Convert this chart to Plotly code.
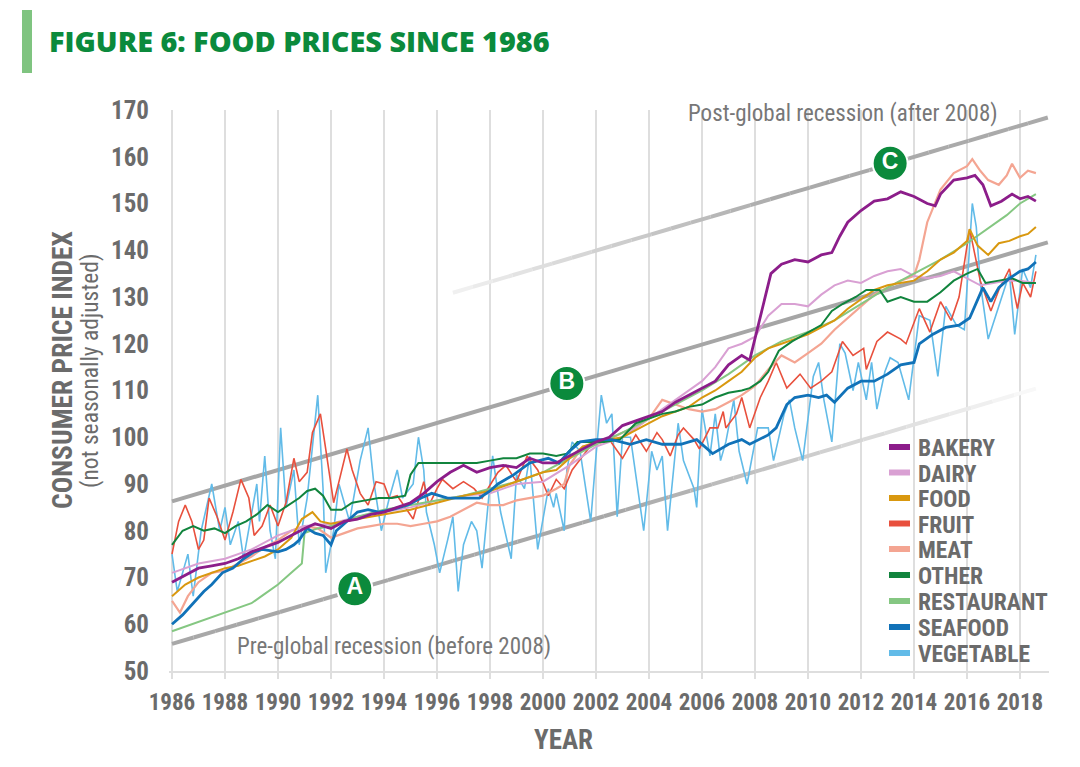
import plotly.graph_objects as go

# ---------------- data (year, CPI) ----------------
bakery = [(1986.0, 69), (1986.5, 70.5), (1987.0, 72), (1987.5, 72.5), (1988.0, 73), (1988.5, 74),
          (1989.0, 75.5), (1989.5, 76.5), (1990.0, 77.5), (1990.5, 79), (1991.0, 80.5), (1991.4, 81.5),
          (1992.0, 80.5), (1992.5, 82), (1993.0, 82.5), (1993.5, 83.5), (1994.0, 84), (1994.5, 85),
          (1995.0, 86), (1995.5, 88), (1996.0, 90.5), (1996.5, 92.5), (1997.0, 94), (1997.5, 92.5),
          (1998.0, 93.5), (1998.5, 94), (1999.0, 93.5), (1999.5, 95.5), (2000.0, 94.5), (2000.5, 94.5),
          (2001.0, 96), (2001.5, 97.5), (2002.0, 99), (2002.5, 100), (2003.0, 102.5), (2003.5, 103.5),
          (2004.0, 104.5), (2004.5, 105.5), (2005.0, 107.5), (2005.5, 109), (2006.0, 110.5), (2006.5, 112),
          (2007.0, 115.5), (2007.5, 117.5), (2007.8, 116.5), (2008.0, 121), (2008.3, 128), (2008.6, 135),
          (2009.0, 137), (2009.5, 138), (2010.0, 137.5), (2010.5, 139), (2010.9, 139.5), (2011.2, 143),
          (2011.5, 146), (2012.0, 148.5), (2012.5, 150.5), (2013.0, 151), (2013.5, 152.5), (2014.0, 151.5),
          (2014.5, 150), (2014.8, 149.5), (2015.0, 152), (2015.5, 155), (2016.0, 155.5), (2016.3, 156),
          (2016.6, 154), (2016.9, 149.5), (2017.3, 150.5), (2017.7, 152), (2018.0, 151), (2018.3, 151.5),
          (2018.6, 150.5)]

dairy = [(1986.0, 71), (1987.0, 73), (1988.0, 74), (1989.0, 76), (1990.0, 79), (1991.0, 81),
         (1992.0, 81.5), (1993.0, 83), (1994.0, 84), (1995.0, 85), (1996.0, 86.5), (1997.0, 87.5),
         (1998.0, 88), (1999.0, 90), (2000.0, 90.5), (2001.0, 94), (2002.0, 98), (2003.0, 100),
         (2004.0, 104), (2005.0, 108), (2005.5, 110), (2006.0, 112), (2006.5, 115), (2007.0, 119),
         (2007.5, 120), (2008.0, 121.5), (2008.5, 126), (2009.0, 128.5), (2009.5, 128.5), (2010.0, 128),
         (2010.5, 130.5), (2011.0, 132.5), (2011.5, 133.5), (2012.0, 133), (2012.5, 134.5), (2013.0, 135.5),
         (2013.5, 136), (2014.0, 134.5), (2014.5, 134), (2015.0, 134.5), (2015.5, 135.5), (2016.0, 134),
         (2016.5, 132.5), (2017.0, 133), (2017.5, 133.5), (2018.0, 133.5), (2018.6, 133)]

food = [(1986.0, 66), (1986.5, 68.5), (1987.0, 70), (1987.5, 71), (1988.0, 72), (1988.5, 72.5),
        (1989.0, 73.5), (1989.5, 74.5), (1990.0, 76), (1990.5, 78.5), (1990.9, 82.5), (1991.3, 84),
        (1991.6, 82), (1992.0, 81.5), (1993.0, 82.5), (1994.0, 83.5), (1995.0, 84.5), (1996.0, 86),
        (1997.0, 87.5), (1998.0, 88.5), (1999.0, 90.5), (2000.0, 92.5), (2000.5, 93), (2001.0, 95.5),
        (2001.5, 98), (2002.0, 99), (2002.5, 99.5), (2003.0, 100), (2003.5, 101.5), (2004.0, 103),
        (2004.5, 104.5), (2005.0, 105.5), (2005.5, 106.5), (2006.0, 108.5), (2006.5, 110), (2007.0, 112),
        (2007.5, 114), (2008.0, 117), (2008.5, 119), (2009.0, 120), (2009.5, 121), (2010.0, 122),
        (2010.5, 123.5), (2011.0, 125), (2011.5, 127.5), (2012.0, 129.5), (2012.5, 131.5), (2013.0, 132.5),
        (2013.5, 133), (2014.0, 133.5), (2014.5, 135.5), (2015.0, 138), (2015.5, 139.5), (2016.0, 142),
        (2016.1, 144.5), (2016.4, 141), (2016.8, 139), (2017.2, 141.5), (2017.6, 142), (2018.0, 143),
        (2018.3, 143.5), (2018.6, 145)]

fruit = [(1986.0, 75), (1986.25, 82), (1986.5, 85.5), (1986.75, 82), (1987.0, 76), (1987.2, 78),
         (1987.4, 87), (1987.7, 83), (1988.0, 78), (1988.3, 84), (1988.6, 91), (1988.9, 87),
         (1989.1, 79), (1989.4, 81), (1989.7, 85.5), (1990.0, 81), (1990.3, 86), (1990.6, 95.5),
         (1990.8, 90.5), (1991.1, 92.5), (1991.3, 101), (1991.6, 105), (1991.8, 97.5), (1992.1, 86),
         (1992.3, 90.5), (1992.6, 97.5), (1992.8, 93), (1993.1, 88), (1993.4, 85.5), (1993.7, 90.5),
         (1994.0, 90), (1994.2, 87), (1994.5, 87.5), (1994.9, 84), (1995.1, 82.5), (1995.5, 90.5),
         (1995.7, 85.5), (1996.0, 89), (1996.2, 91), (1996.6, 89), (1997.0, 90.5), (1997.4, 89),
         (1997.7, 87), (1998.3, 92.5), (1998.6, 94), (1999.0, 90.5), (1999.4, 96), (1999.8, 93),
         (2000.2, 87.5), (2000.5, 91), (2000.8, 89), (2001.1, 93), (2001.7, 97.5), (2001.9, 98.5),
         (2002.3, 99), (2002.5, 99.5), (2003.0, 95.5), (2003.5, 100.5), (2003.9, 97), (2004.3, 101),
         (2004.5, 99.5), (2004.8, 96), (2005.1, 100.5), (2005.3, 102), (2005.7, 99.5), (2005.9, 97.5),
         (2006.3, 102), (2006.6, 102), (2006.8, 105.5), (2006.9, 102), (2007.3, 105), (2007.5, 108.5),
         (2007.8, 102), (2008.2, 108.5), (2008.5, 112), (2008.8, 116), (2009.2, 110.5), (2009.7, 113.5),
         (2010.1, 110.5), (2010.5, 112), (2010.9, 114), (2011.3, 120.5), (2011.7, 117.5), (2012.1, 119),
         (2012.2, 114.5), (2012.6, 120.5), (2013.0, 122.5), (2013.5, 121), (2013.7, 120), (2014.2, 127.5),
         (2014.6, 122.5), (2015.0, 129), (2015.4, 125), (2015.7, 130), (2016.1, 144.5), (2016.5, 133.5),
         (2016.9, 127), (2017.2, 131.5), (2017.6, 136), (2017.9, 127.5), (2018.1, 133), (2018.4, 130),
         (2018.6, 135.5)]

meat = [(1986.0, 65), (1986.3, 62.5), (1986.6, 66), (1987.0, 69), (1987.5, 71), (1988.0, 71.5),
        (1988.5, 73), (1989.0, 74.5), (1989.5, 76.5), (1990.0, 78), (1990.5, 80), (1991.0, 81),
        (1991.5, 80.5), (1992.0, 78.5), (1992.5, 79.5), (1993.0, 80.5), (1993.5, 81), (1994.0, 81.5),
        (1994.5, 81.5), (1995.0, 81), (1995.5, 81.5), (1996.0, 82), (1996.5, 83), (1997.0, 84.5),
        (1997.5, 86), (1998.0, 85.5), (1998.5, 85.5), (1999.0, 86.5), (1999.5, 87), (2000.0, 87.5),
        (2000.5, 89), (2000.8, 90), (2001.0, 94), (2001.5, 98), (2002.0, 98.5), (2002.5, 99.5),
        (2003.0, 101), (2003.5, 102), (2004.0, 104), (2004.5, 108), (2005.0, 107), (2005.5, 106),
        (2006.0, 105.5), (2006.5, 106), (2007.0, 107.5), (2007.5, 109), (2008.0, 111), (2008.5, 114.5),
        (2009.0, 117.5), (2009.5, 116), (2010.0, 118), (2010.5, 120), (2011.0, 123), (2011.5, 125.5),
        (2012.0, 128), (2012.5, 130.5), (2013.0, 132), (2013.5, 133.5), (2014.0, 134.5), (2014.2, 138),
        (2014.5, 146), (2014.8, 150), (2015.0, 153), (2015.5, 156.5), (2016.0, 158), (2016.2, 159.5),
        (2016.5, 157), (2016.8, 155), (2017.2, 154), (2017.5, 156), (2017.7, 158.5), (2018.0, 155.5),
        (2018.3, 157), (2018.6, 156.5)]

other = [(1986.0, 77), (1986.4, 80), (1986.8, 81), (1987.2, 80), (1987.6, 80.5), (1988.0, 79.5),
         (1988.4, 81), (1988.8, 82), (1989.2, 83.5), (1989.6, 85.5), (1990.0, 84), (1990.4, 85.5),
         (1990.8, 87), (1991.1, 88.5), (1991.4, 89), (1991.7, 87.5), (1992.0, 84.5), (1992.4, 84.5),
         (1992.8, 86), (1993.3, 86.5), (1993.8, 87), (1994.3, 87), (1994.8, 87.5), (1995.0, 92),
         (1995.3, 94.5), (1995.8, 94.5), (1996.3, 94.5), (1997.0, 94.5), (1997.5, 94.5), (1998.0, 95),
         (1998.5, 95.5), (1999.0, 95.5), (1999.5, 96.5), (2000.0, 96.5), (2000.5, 96), (2000.9, 96.5),
         (2001.3, 99), (2001.8, 99), (2002.3, 99), (2002.9, 99.5), (2003.5, 103), (2004.0, 104),
         (2004.5, 105), (2005.0, 105.5), (2005.5, 106.5), (2006.0, 107), (2006.5, 108.5), (2007.0, 109.5),
         (2007.5, 110), (2007.8, 110.5), (2008.2, 112), (2008.5, 114), (2008.9, 118.5), (2009.4, 120.5),
         (2010.0, 122.5), (2010.5, 124), (2010.9, 127), (2011.3, 128.5), (2011.8, 130), (2012.2, 131.5),
         (2012.7, 131.5), (2013.0, 129), (2013.5, 130), (2014.0, 129), (2014.5, 129), (2015.0, 131),
         (2015.5, 133.5), (2016.0, 135), (2016.4, 136), (2016.7, 133), (2017.2, 133.5), (2017.7, 134),
         (2018.1, 133), (2018.6, 133)]

restaurant = [(1986.0, 58.5), (1987.0, 60.5), (1988.0, 62.5), (1989.0, 64.5), (1989.5, 66.5),
              (1990.0, 68.5), (1990.5, 71), (1990.9, 73), (1991.0, 79.5), (1991.5, 80.5), (1992.0, 81),
              (1993.0, 83), (1994.0, 84.5), (1995.0, 85.5), (1996.0, 86.5), (1997.0, 87.5), (1998.0, 89),
              (1999.0, 90.5), (2000.0, 92.5), (2001.0, 95.5), (2002.0, 98.5), (2003.0, 101), (2004.0, 104),
              (2005.0, 107), (2006.0, 110), (2007.0, 113.5), (2008.0, 117.5), (2009.0, 120.5), (2010.0, 122.5),
              (2011.0, 125), (2012.0, 128.5), (2013.0, 132), (2014.0, 135), (2015.0, 138), (2016.0, 141.5),
              (2017.0, 145.5), (2017.5, 147.5), (2018.0, 150), (2018.6, 152)]

seafood = [(1986.0, 60), (1986.4, 62), (1986.8, 64.5), (1987.2, 67), (1987.5, 68.5), (1987.9, 71),
           (1988.3, 72), (1988.7, 74), (1989.1, 75.5), (1989.4, 76), (1990.0, 75.5), (1990.3, 76),
           (1990.6, 77), (1990.8, 78), (1991.1, 80.5), (1991.4, 79.5), (1991.7, 79), (1992.0, 77),
           (1992.2, 80), (1992.6, 82), (1993.0, 84), (1993.4, 84.5), (1993.8, 84), (1994.3, 84.5),
           (1994.9, 85.5), (1995.4, 87), (1995.8, 88), (1996.4, 87), (1997.0, 87), (1997.6, 87),
           (1998.0, 88.5), (1998.3, 90), (1998.9, 92), (1999.5, 94.5), (2000.2, 95.5), (2000.6, 94.5),
           (2001.0, 97), (2001.4, 99), (2002.0, 99.5), (2002.6, 99.5), (2003.3, 98.5), (2003.9, 99.5),
           (2004.5, 98.5), (2005.2, 98.5), (2005.8, 99.5), (2006.4, 96.5), (2007.0, 98.5), (2007.5, 99.5),
           (2007.8, 98.5), (2008.5, 100.5), (2008.8, 102), (2009.2, 107), (2009.5, 108.5), (2010.0, 109),
           (2010.4, 108.5), (2010.7, 109), (2011.0, 107.5), (2011.5, 110.5), (2012.0, 112), (2012.5, 112),
           (2013.0, 113.5), (2013.5, 115.5), (2014.0, 116), (2014.2, 120), (2014.7, 122), (2015.2, 123.5),
           (2015.7, 124), (2016.1, 125.5), (2016.6, 132), (2016.9, 129), (2017.2, 132), (2017.6, 134),
           (2018.0, 135.5), (2018.3, 136), (2018.6, 137.5)]

vegetable = [(1986.0, 75), (1986.2, 67), (1986.6, 75), (1986.8, 66), (1987.1, 80), (1987.5, 90),
             (1987.8, 80), (1988.0, 85), (1988.2, 77), (1988.5, 82), (1988.7, 74), (1989.0, 84),
             (1989.2, 90), (1989.3, 82), (1989.5, 96), (1989.7, 80), (1989.9, 74), (1990.1, 102),
             (1990.3, 85), (1990.6, 93), (1990.8, 77), (1991.1, 87), (1991.5, 109), (1991.7, 89),
             (1991.8, 71), (1992.1, 80), (1992.3, 90), (1992.7, 82), (1993.1, 95), (1993.4, 102),
             (1993.6, 91), (1993.9, 80), (1994.2, 87), (1994.5, 93), (1994.7, 87), (1995.1, 90),
             (1995.3, 100), (1995.5, 93), (1995.6, 84), (1995.9, 77), (1996.1, 71), (1996.4, 78),
             (1996.6, 83), (1996.8, 67), (1997.0, 77), (1997.3, 82), (1997.5, 80), (1997.7, 72),
             (1998.0, 90), (1998.1, 96), (1998.4, 84), (1998.8, 74), (1999.0, 92), (1999.3, 89),
             (1999.5, 96), (1999.8, 76), (2000.2, 89), (2000.4, 85), (2000.5, 88), (2000.8, 80),
             (2000.9, 93), (2001.1, 99), (2001.4, 97), (2001.8, 82), (2002.0, 96), (2002.2, 109),
             (2002.4, 103), (2002.6, 105), (2002.8, 83), (2003.0, 100), (2003.3, 100), (2003.5, 92),
             (2003.8, 80), (2004.1, 97), (2004.3, 93), (2004.5, 96), (2004.7, 80), (2005.1, 103),
             (2005.3, 95), (2005.7, 89), (2005.8, 85), (2006.0, 106), (2006.3, 96), (2006.5, 105),
             (2006.7, 95), (2006.9, 99), (2007.2, 108), (2007.4, 97), (2007.7, 90), (2008.1, 102),
             (2008.5, 102), (2008.7, 95), (2009.1, 105), (2009.3, 108), (2009.5, 102), (2009.8, 95),
             (2010.2, 113), (2010.4, 116), (2010.6, 108), (2010.9, 99), (2011.2, 120), (2011.4, 118),
             (2011.7, 110), (2011.9, 116), (2012.2, 108), (2012.4, 116), (2012.6, 106), (2012.9, 114),
             (2013.1, 117), (2013.4, 116), (2013.8, 108), (2014.2, 126), (2014.6, 125), (2014.9, 113),
             (2015.2, 128), (2015.6, 124), (2015.9, 123), (2016.2, 150), (2016.35, 145), (2016.5, 133),
             (2016.8, 121), (2017.2, 128), (2017.6, 135), (2017.8, 122), (2018.1, 136), (2018.4, 132),
             (2018.6, 139)]

trend_a = [(1986.0, 55.8), (2018.6, 110.4)]
trend_b = [(1986.0, 86.3), (2019.05, 141.7)]
trend_c = [(1996.6, 130.9), (2019.05, 168.4)]

badge_years = [1992.9, 2000.9, 2013.1]
badge_values = [67.6, 111.5, 158.6]
badge_text = ["A", "B", "C"]

x_ticks = list(range(1986, 2019, 2))
y_ticks = list(range(50, 171, 10))

# ---------------- styles ----------------
GREY_TXT = "#6b6b6b"
FONT = "Roboto, sans-serif"
TITLE_FONT = "Open Sans"
series = [
    ("BAKERY", bakery, "#8c1d8a", 2.8),
    ("DAIRY", dairy, "#d9a0d3", 2.0),
    ("FOOD", food, "#d9980f", 2.0),
    ("FRUIT", fruit, "#e8503d", 1.6),
    ("MEAT", meat, "#f4a592", 2.2),
    ("OTHER", other, "#11843d", 2.0),
    ("RESTAURANT", restaurant, "#85c782", 2.0),
    ("SEAFOOD", seafood, "#1172b8", 2.8),
    ("VEGETABLE", vegetable, "#62bbe8", 1.6),
]
draw_order = ["VEGETABLE", "FRUIT", "MEAT", "DAIRY", "RESTAURANT", "FOOD", "OTHER", "SEAFOOD", "BAKERY"]

L, R, T, B = 169, 1049, 110, 671
W_PX, H_PX = 1080, 767


def pxx(x):
    return (x - L) / (R - L)


def pxy(y):
    return (B - y) / (B - T)


fig = go.Figure()


def grey_hex(g):
    g = max(0, min(255, int(round(g))))
    return "#{0:02x}{0:02x}{0:02x}".format(g)


def add_trend(line, shade_fn, nseg):
    (x0, y0), (x1, y1) = line
    for i in range(nseg):
        a, b = i / nseg, (i + 1) / nseg
        xa, xb = x0 + (x1 - x0) * a, x0 + (x1 - x0) * b
        ya, yb = y0 + (y1 - y0) * a, y0 + (y1 - y0) * b
        fig.add_trace(go.Scatter(x=[xa, xb], y=[ya, yb], mode="lines",
                                 line=dict(color=grey_hex(shade_fn((xa + xb) / 2)), width=4),
                                 hoverinfo="skip", showlegend=False))


def shade_a(yr):
    if yr < 2003:
        return 168
    return 168 + (yr - 2003) / (2018.6 - 2003) * (250 - 168)


def shade_b(yr):
    return 166


def shade_c(yr):
    if yr > 2009:
        return 170
    return 242 - (yr - 1996.6) / (2009 - 1996.6) * (242 - 170)


add_trend(trend_a, shade_a, 40)
add_trend(trend_b, shade_b, 1)
add_trend(trend_c, shade_c, 30)

lookup = {s[0]: s for s in series}
for name in draw_order:
    _, data, color, width = lookup[name]
    fig.add_trace(go.Scatter(
        x=[p[0] for p in data], y=[p[1] for p in data], mode="lines", name=name,
        line=dict(color=color, width=width), showlegend=False))

fig.add_trace(go.Scatter(
    x=badge_years, y=badge_values, mode="markers+text", text=badge_text,
    textposition="middle center",
    marker=dict(size=35, color="#0b8a3c", line=dict(color="white", width=2)),
    textfont=dict(color="white", size=23, family="Liberation Sans, Arial, sans-serif", weight="bold"),
    hoverinfo="skip", showlegend=False))

shapes = []
annotations = []

# title + bar
shapes.append(dict(type="rect", xref="paper", yref="paper", x0=pxx(22), x1=pxx(32),
                   y0=pxy(73), y1=pxy(10), fillcolor="#7fc480", line=dict(width=0)))
annotations.append(dict(text="FIGURE 6: FOOD PRICES SINCE 1986", xref="paper", yref="paper",
                        x=pxx(47), y=pxy(40), xanchor="left", yanchor="middle", showarrow=False,
                        font=dict(family=TITLE_FONT, size=28.8, color="#0b8a3c", weight=800)))

# white backing behind legend text (hides gridlines there, like the reference)
shapes.append(dict(type="rect", xref="paper", yref="paper", layer="between",
                   x0=pxx(913), x1=pxx(1012), y0=pxy(590), y1=pxy(434),
                   fillcolor="white", line=dict(width=0)))
shapes.append(dict(type="rect", xref="paper", yref="paper", layer="between",
                   x0=pxx(913), x1=pxx(1049), y0=pxy(666), y1=pxy(589),
                   fillcolor="white", line=dict(width=0)))

legend_rows = [447, 472.5, 498, 523.5, 549, 575, 601, 627, 653]
for (name, _, color, _), yy in zip(series, legend_rows):
    shapes.append(dict(type="line", xref="paper", yref="paper",
                       x0=pxx(889), x1=pxx(910), y0=pxy(yy), y1=pxy(yy),
                       line=dict(color=color, width=6)))
    annotations.append(dict(text=name, xref="paper", yref="paper", x=pxx(916), y=pxy(yy + 1),
                            xanchor="left", yanchor="middle", showarrow=False,
                            font=dict(family=FONT, size=23.5, color=GREY_TXT, weight="bold")))

annotations.append(dict(text="Post-global recession (after 2008)", xref="paper", yref="paper",
                        x=pxx(843), y=pxy(113), xanchor="center", yanchor="middle", showarrow=False,
                        font=dict(family=FONT, size=23, color="#777777")))
annotations.append(dict(text="Pre-global recession (before 2008)", xref="paper", yref="paper",
                        x=pxx(394), y=pxy(646), xanchor="center", yanchor="middle", showarrow=False,
                        font=dict(family=FONT, size=23, color="#777777")))

annotations.append(dict(text="CONSUMER PRICE INDEX", xref="paper", yref="paper",
                        x=pxx(62), y=pxy(370), xanchor="center", yanchor="middle", showarrow=False,
                        textangle=-90,
                        font=dict(family=FONT, size=27.5, color=GREY_TXT, weight="bold")))
annotations.append(dict(text="(not seasonally adjusted)", xref="paper", yref="paper",
                        x=pxx(90), y=pxy(371), xanchor="center", yanchor="middle", showarrow=False,
                        textangle=-90,
                        font=dict(family=FONT, size=23.5, color=GREY_TXT)))
annotations.append(dict(text="YEAR", xref="paper", yref="paper",
                        x=pxx(563), y=pxy(740), xanchor="center", yanchor="middle", showarrow=False,
                        font=dict(family=FONT, size=27, color=GREY_TXT, weight="bold")))

x_left = 1986 - (172 - L) / 26.5
x_right = 1986 + (R - 172) / 26.5

fig.update_layout(
    width=W_PX, height=H_PX, autosize=False,
    margin=dict(l=L, r=W_PX - R, t=T, b=H_PX - B),
    paper_bgcolor="white", plot_bgcolor="white",
    shapes=shapes, annotations=annotations,
    xaxis=dict(range=[x_left, x_right], tickvals=x_ticks, ticktext=[str(v) for v in x_ticks],
               showgrid=True, gridcolor="#dedede", gridwidth=1.5,
               showline=True, linecolor="#dedede", linewidth=1.5,
               ticks="outside", ticklen=6, tickcolor="#dedede", tickwidth=1.5,
               ticklabelstandoff=4, zeroline=False, tickangle=0,
               tickfont=dict(family=FONT, size=23, color=GREY_TXT, weight="bold")),
    yaxis=dict(range=[50, 170], tickvals=y_ticks, showgrid=False, showline=False, zeroline=False,
               ticks="outside", ticklen=14, tickcolor="rgba(0,0,0,0)",
               tickfont=dict(family=FONT, size=25, color=GREY_TXT, weight="bold")),
    showlegend=False,
)

# condensed glyph widths (installed variable fonts) for the Roboto texts; the selectors match on
# the text's own style attribute so plotly's off-screen measuring copy gets the same width.
css = (".xtick text, .ytick text, .annotation-text[style*=\"Roboto\"] "
       "{ font-stretch: condensed !important; }")
post = (
    "document.body.style.margin='0px';"
    "var s=document.createElement('style');s.innerHTML='" + css + "';"
    "document.head.appendChild(s);"
    "var gd=document.getElementById('{plot_id}');"
    "var ann=gd.layout.annotations.map(function(a){var f=Object.assign({},a.font);"
    "f.size=f.size+0.01;return Object.assign({},a,{font:f});});"
    "return Plotly.relayout(gd,{annotations:ann});"
)
fig.write_html("out.html", post_script=post, config={"displayModeBar": False})
